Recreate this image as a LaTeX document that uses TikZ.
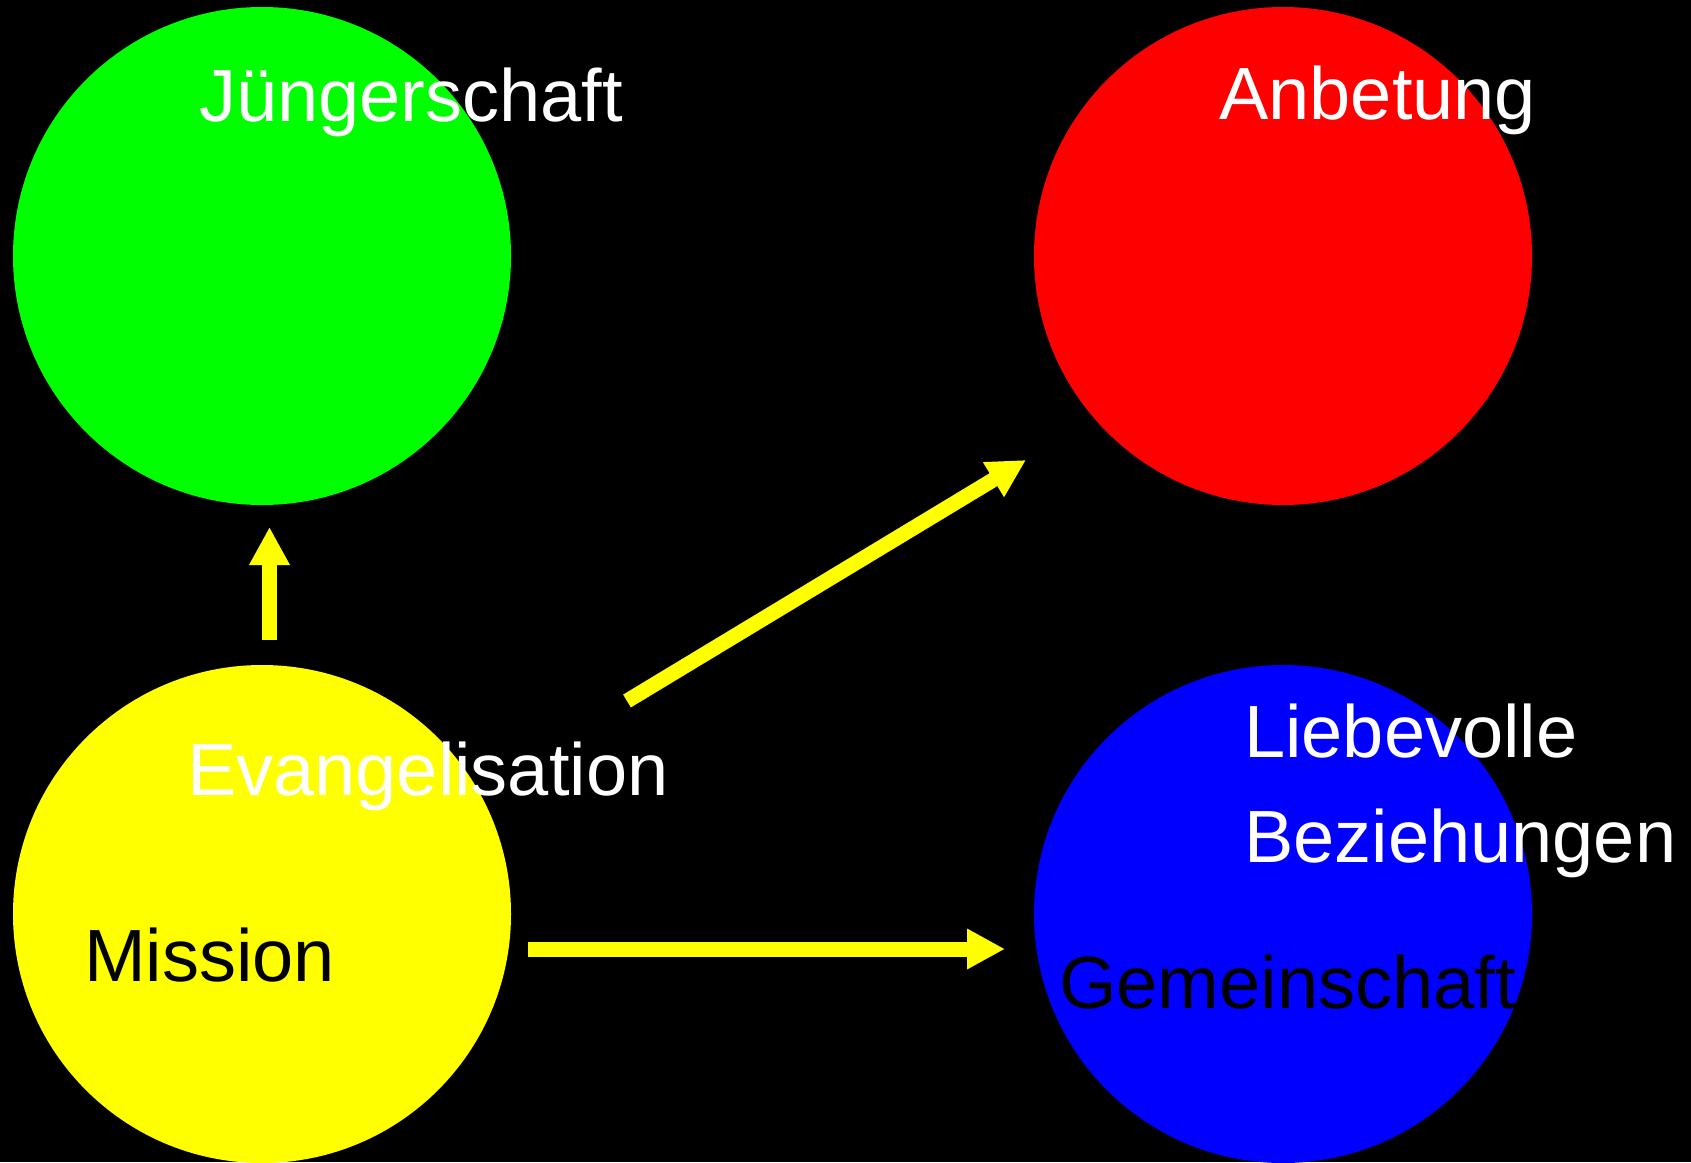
\documentclass[tikz,border=0pt]{standalone}
\usepackage{fontspec}
\setmainfont{Liberation Sans}
\usetikzlibrary{arrows.meta}
\definecolor{cgreen}{RGB}{0,255,0}
\definecolor{cred}{RGB}{255,0,0}
\definecolor{cyellow}{RGB}{255,255,0}
\definecolor{cblue}{RGB}{0,0,255}
\tikzset{
  disc/.style={circle, inner sep=0pt, minimum size=498pt, draw=none},
  lbl/.style={inner sep=0pt, anchor=base west, font=\fontsize{74}{105}\selectfont},
  yarrow/.style={draw=cyellow, line width=15pt, -{Triangle[length=38pt,width=38pt]}, fill=cyellow}
}
\begin{document}
\begin{tikzpicture}[x=1pt,y=-1pt]
\fill[black] (0,0) rectangle (1691,1162);
\useasboundingbox (0,0) rectangle (1691,1162);
\node[disc, fill=cgreen] (jue) at (262,256) {};
\node[disc, fill=cred] (anb) at (1283,256) {};
\node[disc, fill=cyellow] (mis) at (262,914) {};
\node[disc, fill=cblue] (gem) at (1283,914) {};
\node[lbl, text=white] (tjue) at (199,121) {Jüngerschaft};
\node[lbl, text=white] (tanb) at (1219,119) {Anbetung};
\node[lbl, text=white] (tevan) at (187,795) {Evangelisation};
\node[lbl, text=black] (tmis) at (84,981) {Mission};
\node[lbl, text=white, align=left] (tlieb) at (1244,862) {Liebevolle\\Beziehungen};
\node[lbl, text=black] (tgem) at (1059,1008) {Gemeinschaft};
\coordinate (a1s) at (269.5,640);
\coordinate (a1e) at (269.5,527);
\coordinate (a2s) at (627,701);
\coordinate (a2e) at (1026,460);
\coordinate (a3s) at (528,949);
\coordinate (a3e) at (1005,949);
\draw[yarrow] (a1s) -- (a1e);
\draw[yarrow] (a2s) -- (a2e);
\draw[yarrow] (a3s) -- (a3e);
\end{tikzpicture}
\end{document}
